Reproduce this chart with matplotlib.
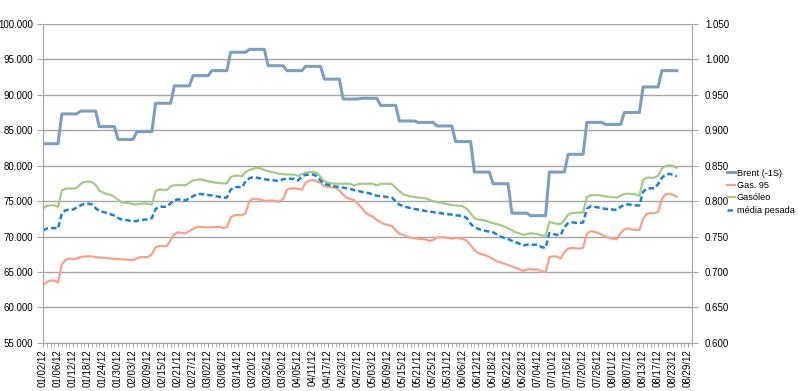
import numpy as np
import pandas as pd
import matplotlib
matplotlib.use("Agg")
import matplotlib.pyplot as plt
from matplotlib.ticker import FixedLocator, MultipleLocator

plt.rcParams["font.family"] = ["Liberation Sans", "DejaVu Sans"]

# business days on the category axis
dates = pd.bdate_range("2012-01-02", periods=174)
labels = [d.strftime("%m/%d/%y") for d in dates]

# Brent (-1S), weekly value held over each business week (left axis)
brent_weekly = [83.1, 87.3, 87.7, 85.5, 83.7, 84.8, 88.8, 91.25, 92.7, 93.4,
                96.0, 96.4, 94.1, 93.4, 94.0, 92.2, 89.4, 89.5, 88.5, 86.3,
                86.1, 85.6, 83.4, 79.1, 77.45, 73.3, 72.95, 79.1, 81.6, 86.1,
                85.8, 87.5, 91.1, 93.4]
brent = np.repeat(brent_weekly, 5)

# retail prices (right axis), one value per business day
gas95 = [0.6815, 0.686, 0.688, 0.688, 0.685, 0.711, 0.717, 0.719, 0.718, 0.719,
         0.721, 0.722, 0.722, 0.722, 0.721, 0.7205, 0.720, 0.7195, 0.719, 0.7185,
         0.718, 0.718, 0.7175, 0.717, 0.717, 0.719, 0.721, 0.721, 0.721, 0.725,
         0.735, 0.7365, 0.7365, 0.7365, 0.745, 0.753, 0.756, 0.755, 0.7545, 0.758,
         0.7605, 0.7635, 0.7635, 0.763, 0.763, 0.763, 0.7635, 0.764, 0.762, 0.763,
         0.777, 0.780, 0.7805, 0.780, 0.783, 0.800, 0.8035, 0.803, 0.802, 0.800,
         0.8005, 0.801, 0.800, 0.799, 0.803, 0.816, 0.818, 0.818, 0.8175, 0.816,
         0.826, 0.829, 0.8295, 0.828, 0.8255, 0.821, 0.820, 0.8195, 0.819, 0.815,
         0.809, 0.8045, 0.803, 0.801, 0.796, 0.790, 0.784, 0.780, 0.778, 0.773,
         0.7705, 0.7675, 0.7665, 0.765, 0.759, 0.754, 0.7525, 0.750, 0.7485, 0.7475,
         0.747, 0.7465, 0.746, 0.744, 0.745, 0.7485, 0.749, 0.749, 0.748, 0.747,
         0.748, 0.7475, 0.7465, 0.744, 0.738, 0.731, 0.727, 0.725, 0.7235, 0.721,
         0.718, 0.715, 0.7135, 0.7115, 0.710, 0.708, 0.706, 0.704, 0.7015, 0.7035,
         0.704, 0.7035, 0.7035, 0.701, 0.700, 0.721, 0.722, 0.722, 0.719, 0.728,
         0.733, 0.734, 0.7335, 0.733, 0.734, 0.754, 0.7575, 0.757, 0.755, 0.7525,
         0.750, 0.748, 0.747, 0.746, 0.755, 0.760, 0.7615, 0.760, 0.7595, 0.759,
         0.775, 0.782, 0.783, 0.783, 0.785, 0.803, 0.8095, 0.8105, 0.809, 0.806]

gasoleo = [0.7895, 0.7935, 0.794, 0.794, 0.792, 0.815, 0.8175, 0.818, 0.8175, 0.819,
           0.824, 0.827, 0.8275, 0.827, 0.823, 0.815, 0.812, 0.810, 0.809, 0.806,
           0.802, 0.798, 0.7975, 0.797, 0.7955, 0.7955, 0.796, 0.797, 0.796, 0.795,
           0.814, 0.8165, 0.816, 0.8155, 0.821, 0.8225, 0.8225, 0.8225, 0.8225, 0.826,
           0.829, 0.830, 0.8305, 0.8295, 0.828, 0.827, 0.826, 0.8255, 0.825, 0.825,
           0.834, 0.8355, 0.836, 0.835, 0.841, 0.844, 0.8455, 0.847, 0.846, 0.844,
           0.842, 0.841, 0.840, 0.8385, 0.838, 0.8375, 0.8375, 0.8375, 0.8355, 0.838,
           0.840, 0.841, 0.841, 0.8395, 0.834, 0.828, 0.826, 0.825, 0.8245, 0.8245,
           0.8245, 0.8245, 0.824, 0.822, 0.824, 0.8245, 0.8245, 0.8245, 0.8245, 0.822,
           0.8245, 0.8245, 0.8245, 0.824, 0.819, 0.814, 0.8095, 0.808, 0.8065, 0.806,
           0.805, 0.8045, 0.804, 0.802, 0.800, 0.7985, 0.7975, 0.7965, 0.7955, 0.7945,
           0.794, 0.7935, 0.7925, 0.789, 0.783, 0.776, 0.774, 0.7735, 0.7725, 0.7705,
           0.769, 0.7675, 0.766, 0.764, 0.7615, 0.759, 0.756, 0.7545, 0.7525, 0.7535,
           0.7545, 0.754, 0.7535, 0.7515, 0.751, 0.771, 0.769, 0.768, 0.7675, 0.773,
           0.781, 0.783, 0.7835, 0.784, 0.784, 0.806, 0.808, 0.8085, 0.8085, 0.8075,
           0.8065, 0.806, 0.8055, 0.805, 0.8075, 0.810, 0.8105, 0.810, 0.8095, 0.807,
           0.830, 0.833, 0.833, 0.833, 0.836, 0.846, 0.8495, 0.8505, 0.8495, 0.847]

media = [0.7585, 0.7615, 0.762, 0.762, 0.761, 0.783, 0.787, 0.788, 0.788, 0.791,
         0.794, 0.796, 0.7965, 0.7955, 0.790, 0.786, 0.7845, 0.7835, 0.7815, 0.7795,
         0.776, 0.774, 0.7735, 0.7725, 0.7715, 0.772, 0.7735, 0.774, 0.774, 0.776,
         0.789, 0.792, 0.792, 0.792, 0.797, 0.801, 0.8025, 0.8015, 0.801, 0.804,
         0.807, 0.810, 0.810, 0.8095, 0.8085, 0.808, 0.807, 0.806, 0.805, 0.805,
         0.816, 0.8195, 0.820, 0.819, 0.828, 0.832, 0.834, 0.833, 0.832, 0.831,
         0.830, 0.8295, 0.829, 0.828, 0.831, 0.8315, 0.8315, 0.8315, 0.829, 0.835,
         0.837, 0.8375, 0.8375, 0.835, 0.829, 0.824, 0.823, 0.8215, 0.8205, 0.820,
         0.819, 0.818, 0.817, 0.8155, 0.8145, 0.813, 0.812, 0.811, 0.809, 0.8075,
         0.807, 0.8065, 0.8055, 0.805, 0.800, 0.795, 0.793, 0.7915, 0.790, 0.789,
         0.788, 0.787, 0.786, 0.785, 0.7845, 0.7835, 0.783, 0.782, 0.7815, 0.781,
         0.780, 0.7795, 0.779, 0.776, 0.768, 0.763, 0.761, 0.759, 0.758, 0.757,
         0.756, 0.753, 0.750, 0.748, 0.7465, 0.744, 0.742, 0.740, 0.737, 0.7385,
         0.7385, 0.7385, 0.7385, 0.735, 0.734, 0.755, 0.7535, 0.7525, 0.752, 0.763,
         0.769, 0.770, 0.7695, 0.769, 0.770, 0.789, 0.793, 0.792, 0.791, 0.790,
         0.789, 0.7885, 0.788, 0.7875, 0.792, 0.795, 0.7955, 0.7945, 0.794, 0.794,
         0.813, 0.818, 0.818, 0.818, 0.824, 0.833, 0.8375, 0.8385, 0.837, 0.835]

grid_c = "#a6a6a6"
font = 7

fig = plt.figure(figsize=(7.98, 3.91), dpi=100)
ax = fig.add_axes([0.054, 0.123, 0.813, 0.816])
ax2 = ax.twinx()

x = np.arange(len(brent))
l1, = ax.plot(x, brent, color="#7b9ec4", lw=2.2, label="Brent (-1S)", zorder=3)
l2, = ax2.plot(x, gas95, color="#f9a088", lw=1.6, label="Gas. 95")
l3, = ax2.plot(x, gasoleo, color="#a5ca82", lw=1.6, label="Gasóleo")
l4, = ax2.plot(x, media, color="#1a82d6", lw=1.8, ls=(0, (2.2, 1.2)), label="média pesada")

ax.set_xlim(0, len(dates) - 1)
ax.set_ylim(55, 100)
ax2.set_ylim(0.6, 1.05)
ax.set_yticks(np.arange(55, 100.1, 5))
ax.set_yticklabels([f"{v:.3f}" for v in np.arange(55, 100.1, 5)])
ax2.set_yticks(np.arange(0.6, 1.0501, 0.05))
ax2.set_yticklabels([f"{v:.3f}" for v in np.arange(0.6, 1.0501, 0.05)])

ax.xaxis.set_major_locator(FixedLocator(range(0, len(dates), 4)))
ax.set_xticklabels(labels[::4], rotation=90)
ax.xaxis.set_minor_locator(MultipleLocator(1))

ax.grid(axis="y", color=grid_c, lw=1)
ax.set_axisbelow(True)
for a in (ax, ax2):
    a.spines["top"].set_visible(False)
    for s in ("left", "right", "bottom"):
        a.spines[s].set_color(grid_c)
    a.tick_params(which="both", colors=grid_c, labelcolor="black", labelsize=font)
ax.tick_params(axis="x", which="both", length=3, pad=1.5)
ax.tick_params(axis="y", length=4, pad=3)
ax2.tick_params(axis="y", length=4, pad=5.5)

fig.legend(handles=[l1, l2, l3, l4], loc="upper left", bbox_to_anchor=(0.911, 0.569),
           frameon=False, fontsize=6.6, handlelength=0.85, handletextpad=0.2,
           labelspacing=0.38, borderpad=0, borderaxespad=0)

fig.savefig("out.png", dpi=100)
